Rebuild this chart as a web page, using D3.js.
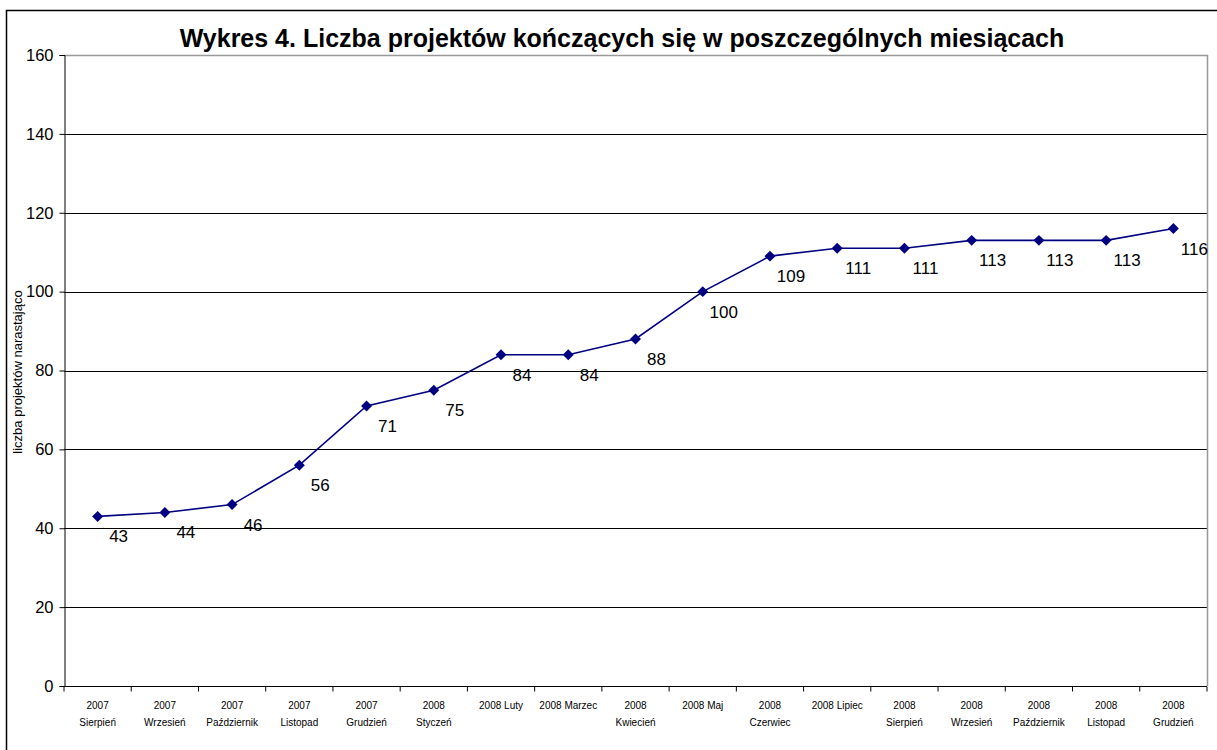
<!DOCTYPE html>
<html><head><meta charset="utf-8">
<script src="https://cdn.jsdelivr.net/npm/d3@7"></script>
<style>body{margin:0;background:#fff;}svg{display:block;font-family:Arial,"Liberation Sans",sans-serif;}</style>
</head><body>
<script>
const title = "Wykres 4. Liczba projektów kończących się w poszczególnych miesiącach";
const yAxisTitle = "liczba projektów narastająco";
const categories = ["2007\nSierpień","2007\nWrzesień","2007\nPaździernik","2007\nListopad","2007\nGrudzień","2008\nStyczeń","2008 Luty","2008 Marzec","2008\nKwiecień","2008 Maj","2008\nCzerwiec","2008 Lipiec","2008\nSierpień","2008\nWrzesień","2008\nPaździernik","2008\nListopad","2008\nGrudzień"];
const values = [43,44,46,56,71,75,84,84,88,100,109,111,111,113,113,113,116];
const yTicks = [0,20,40,60,80,100,120,140,160];

const W = 1217, H = 750;
const svg = d3.select("body").append("svg").attr("width", W).attr("height", H);

// outer chart border
svg.append("rect").attr("x",6.5).attr("y",10.5).attr("width",1230).attr("height",760)
  .attr("fill","none").attr("stroke","#000").attr("stroke-width",1.5);

const m = {left:64, right:1207, top:55, bottom:686};
const x = d3.scaleBand().domain(categories.map((c,i)=>i)).range([m.left,m.right]).paddingInner(0).paddingOuter(0);
const y = d3.scaleLinear().domain([0,160]).range([m.bottom,m.top]);

// gridlines
svg.append("g").selectAll("line").data(yTicks.filter(t=>t>0 && t<160)).join("line")
  .attr("x1",m.left).attr("x2",m.right)
  .attr("y1",d=>Math.round(y(d))+0.5).attr("y2",d=>Math.round(y(d))+0.5)
  .attr("stroke","#000").attr("stroke-width",1);

// plot area border (gray)
svg.append("line").attr("x1",m.right+0.5).attr("x2",m.right+0.5).attr("y1",m.top).attr("y2",m.bottom)
  .attr("stroke","#999").attr("stroke-width",1.5);
svg.append("line").attr("x1",m.left).attr("x2",m.right+1).attr("y1",m.top+0.5).attr("y2",m.top+0.5)
  .attr("stroke","#999").attr("stroke-width",1.5);

// y axis
const yAxis = d3.axisLeft(y).tickValues(yTicks).tickSize(5).tickPadding(6).tickFormat(d3.format("d"));
const gy = svg.append("g").attr("transform",`translate(${m.left+0.5},0)`).call(yAxis);
gy.select(".domain").attr("stroke","#000");
gy.selectAll(".tick line").attr("stroke","#000");
gy.selectAll("text").attr("font-size",16.5).attr("fill","#000").attr("font-family","Arial, 'Liberation Sans', sans-serif");

// x axis
const xAxis = d3.axisBottom(x).tickSize(5).tickFormat(()=> "");
const gx = svg.append("g").attr("transform",`translate(0,${m.bottom+0.5})`).call(xAxis);
gx.select(".domain").attr("stroke","#000").attr("d",`M${m.left},0H${m.right}`);
gx.selectAll(".tick line").attr("transform",`translate(${-x.bandwidth()/2},0)`).attr("stroke","#000");
gx.append("line").attr("x1",m.right).attr("x2",m.right).attr("y1",0).attr("y2",5).attr("stroke","#000");
gx.selectAll(".tick text").remove();
gx.selectAll(".tick").each(function(d){
  const lines = categories[d].split("\n");
  const t = d3.select(this).append("text").attr("fill","#000").attr("font-size",10)
    .attr("text-anchor","middle").attr("font-family","Arial, 'Liberation Sans', sans-serif");
  lines.forEach((l,i)=>t.append("tspan").attr("x",0).attr("y",22+i*17).text(l));
});

// y axis title
svg.append("text").attr("transform",`translate(22,${372}) rotate(-90)`)
  .attr("text-anchor","middle").attr("font-size",13).attr("fill","#000").text(yAxisTitle);

// title
svg.append("text").attr("x",622).attr("y",47).attr("text-anchor","middle")
  .attr("font-size",25).attr("font-weight","bold").attr("fill","#000").text(title);

// line
const cx = i => x(i) + x.bandwidth()/2;
svg.append("path").datum(values)
  .attr("d", d3.line().x((d,i)=>cx(i)).y(d=>y(d)))
  .attr("fill","none").attr("stroke","#000080").attr("stroke-width",1.6);

// markers
svg.append("g").selectAll("path").data(values).join("path")
  .attr("d", d3.symbol(d3.symbolSquare, 60))
  .attr("transform",(d,i)=>`translate(${cx(i)},${y(d)}) rotate(45)`)
  .attr("fill","#000080");

// data labels
svg.append("g").selectAll("text").data(values).join("text")
  .attr("x",(d,i)=>cx(i)+21).attr("y",d=>y(d)+26)
  .attr("text-anchor","middle").attr("font-size",17).attr("fill","#000").text(d=>d);
</script>
</body></html>
